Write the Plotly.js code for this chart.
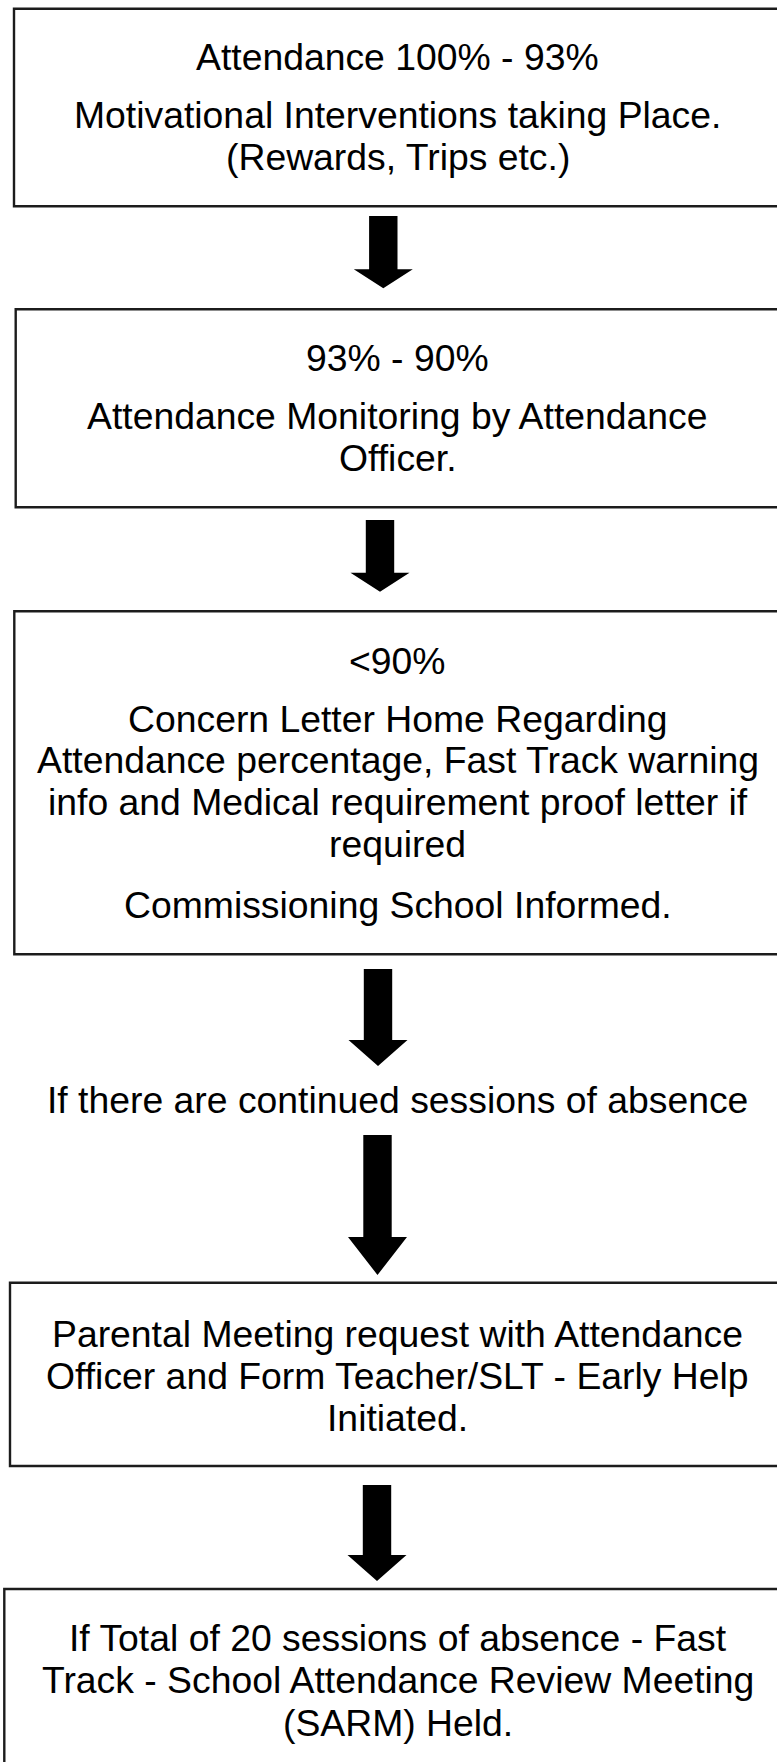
<!DOCTYPE html>
<html>
<head>
<meta charset="utf-8">
<script src="https://cdn.plot.ly/plotly-3.0.1.min.js"></script>
<style>
  html, body { margin: 0; padding: 0; background: #ffffff; }
  #chart { width: 777px; height: 1762px; }
</style>
</head>
<body>
<div id="chart"></div>
<script>
// ---- Content (text of each flowchart step) ----
const box1Lines = ["Attendance 100% - 93%", "Motivational Interventions taking Place.", "(Rewards, Trips etc.)"];
const box2Lines = ["93% - 90%", "Attendance Monitoring by Attendance", "Officer."];
const box3Lines = ["<90%", "Concern Letter Home Regarding", "Attendance percentage, Fast Track warning", "info and Medical requirement proof letter if", "required", "Commissioning School Informed."];
const middleLines = ["If there are continued sessions of absence"];
const box5Lines = ["Parental Meeting request with Attendance", "Officer and Form Teacher/SLT - Early Help", "Initiated."];
const box6Lines = ["If Total of 20 sessions of absence - Fast", "Track - School Attendance Review Meeting", "(SARM) Held."];

// ---- Layout geometry (page coordinates) ----
const W = 777, H = 1762;
const FONT_SIZE = 37.33;
const TEXT_CX = 397.5;

const boxGeom = [
  { left: 14.0, top: 8.7,    bottom: 206.3 },
  { left: 15.7, top: 309.3,  bottom: 507.3 },
  { left: 14.3, top: 611.3,  bottom: 954.3 },
  { left: 10.0, top: 1282.7, bottom: 1466.0 },
  { left: 4.3,  top: 1589.0, bottom: 1800.0 }
];
const boxLineBaselines = [
  [70.0, 128.3, 170.0],
  [370.6, 429.0, 470.8],
  [673.5, 731.5, 773.2, 814.9, 856.6, 918.0],
  [1347.0, 1389.0, 1431.0],
  [1650.7, 1693.3, 1736.0]
];
const middleBaselines = [1113.0];

const arrowGeom = [
  { cx: 383.3, top: 216.0,  base: 269.3,  tip: 288.3 },
  { cx: 380.0, top: 520.0,  base: 572.7,  tip: 591.7 },
  { cx: 378.0, top: 969.0,  base: 1040.0, tip: 1066.0 },
  { cx: 377.5, top: 1135.0, base: 1237.0, tip: 1275.0 },
  { cx: 377.0, top: 1485.0, base: 1555.0, tip: 1581.0 }
];
const SHAFT_HALF = 14.2, HEAD_HALF = 29.5;

function esc(s) { return s.replace(/&/g, '&amp;').replace(/</g, '&lt;').replace(/>/g, '&gt;'); }

const shapes = [];
const annotations = [];

boxGeom.forEach(b => {
  shapes.push({
    type: 'rect', xref: 'x', yref: 'y',
    x0: b.left, x1: W + 20, y0: b.top, y1: b.bottom,
    line: { color: '#1c1c1c', width: 2.4 },
    fillcolor: 'rgba(0,0,0,0)', layer: 'above'
  });
});

arrowGeom.forEach(a => {
  const p = 'M ' + (a.cx - SHAFT_HALF) + ' ' + a.top +
            ' L ' + (a.cx + SHAFT_HALF) + ' ' + a.top +
            ' L ' + (a.cx + SHAFT_HALF) + ' ' + a.base +
            ' L ' + (a.cx + HEAD_HALF) + ' ' + a.base +
            ' L ' + a.cx + ' ' + a.tip +
            ' L ' + (a.cx - HEAD_HALF) + ' ' + a.base +
            ' L ' + (a.cx - SHAFT_HALF) + ' ' + a.base + ' Z';
  shapes.push({
    type: 'path', xref: 'x', yref: 'y', path: p,
    fillcolor: '#000000', line: { color: '#000000', width: 0 }, layer: 'above'
  });
});

// baseline -> vertical middle of the text box (Liberation Sans ascent .905, descent .212)
const MID_OFFSET = (0.905 - 0.212) / 2 * FONT_SIZE;

function addLines(lines, baselines) {
  lines.forEach((t, i) => {
    annotations.push({
      xref: 'x', yref: 'y', x: TEXT_CX, y: baselines[i] - MID_OFFSET,
      xanchor: 'center', yanchor: 'middle', showarrow: false,
      text: esc(t),
      font: { family: '"Liberation Sans", Arial, sans-serif', size: FONT_SIZE, color: '#000000' }
    });
  });
}
const allBoxLines = [box1Lines, box2Lines, box3Lines, box5Lines, box6Lines];
allBoxLines.forEach((lines, k) => addLines(lines, boxLineBaselines[k]));
addLines(middleLines, middleBaselines);

const layout = {
  width: W, height: H,
  margin: { l: 0, r: 0, t: 0, b: 0, pad: 0 },
  paper_bgcolor: '#ffffff', plot_bgcolor: '#ffffff',
  showlegend: false,
  xaxis: { range: [0, W], visible: false, fixedrange: true },
  yaxis: { range: [H, 0], visible: false, fixedrange: true },
  shapes: shapes,
  annotations: annotations
};

Plotly.newPlot('chart', [{ x: [], y: [], type: 'scatter', mode: 'markers', hoverinfo: 'skip', showlegend: false }], layout, { staticPlot: true, displayModeBar: false });
</script>
</body>
</html>
